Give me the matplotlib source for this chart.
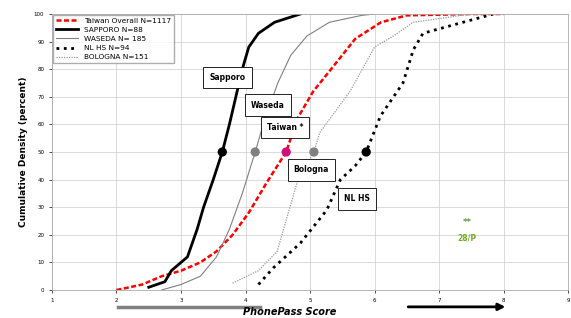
import matplotlib.pyplot as plt
import numpy as np

# cumulative curves (score, percent)
taiwan_x = [2.0, 2.4, 2.7, 3.0, 3.3, 3.55, 3.8, 4.05, 4.33, 4.63, 4.8, 5.05, 5.36, 5.7, 6.1, 6.5, 7.5, 8.0]
taiwan_y = [0, 2, 5, 7, 10, 14, 20, 28, 39, 50, 62, 72, 81, 91, 97, 99.5, 100, 100]

sapporo_x = [2.5, 2.75, 2.85, 3.0, 3.1, 3.25, 3.35, 3.5, 3.64, 3.75, 3.85, 3.95, 4.05, 4.2, 4.45, 4.85]
sapporo_y = [1, 3, 7, 10, 12, 22, 30, 40, 50, 60, 70, 80, 88, 93, 97, 100]

waseda_x = [2.7, 3.0, 3.3, 3.55, 3.75, 3.95, 4.15, 4.3, 4.5, 4.7, 4.95, 5.3, 5.8, 6.0]
waseda_y = [0, 2, 5, 12, 22, 35, 50, 62, 75, 85, 92, 97, 99.5, 100]

nlhs_x = [4.2, 4.43, 4.85, 5.26, 5.47, 5.7, 5.87, 6.09, 6.44, 6.6, 6.75, 7.37, 7.84]
nlhs_y = [2, 8, 17, 29, 40, 45, 50, 63, 75, 87, 93, 97, 100]

bologna_x = [3.8, 4.2, 4.49, 4.8, 5.06, 5.15, 5.62, 6.0, 6.29, 6.6, 7.2, 7.5]
bologna_y = [2.5, 7, 14, 39, 50, 57, 72, 88, 92, 97, 99, 100]

# medians at the 50% line
med_x = [3.64, 4.15, 4.63, 5.06, 5.87]
med_c = ['black', 'grey', '#d0107a', 'grey', 'black']

labels = ['Sapporo', 'Waseda', 'Taiwan *', 'Bologna', 'NL HS']
label_pos = [(3.72, 77), (4.35, 67), (4.61, 59), (5.02, 43.5), (5.73, 33)]

fig = plt.figure(figsize=(5.71, 3.18), dpi=100)
ax = fig.add_axes([0.091, 0.088, 0.904, 0.868])

ax.plot(taiwan_x, taiwan_y, color='red', ls=(0, (2, 1)), lw=1.8, label='Taiwan Overall N=1117')
ax.plot(sapporo_x, sapporo_y, color='black', lw=2, label='SAPPORO N=88')
ax.plot(waseda_x, waseda_y, color='grey', lw=0.8, label='WASEDA N= 185')
ax.plot(nlhs_x, nlhs_y, color='black', ls=':', lw=2, label='NL HS N=94')
ax.plot(bologna_x, bologna_y, color='#999999', ls=(0, (1, 1)), lw=0.9, label='BOLOGNA N=151')

ax.scatter(med_x, [50] * 5, c=med_c, s=32, zorder=5)

for t, (x, y) in zip(labels, label_pos):
    ax.text(x, y, t, fontsize=5.5, fontweight='bold', ha='center', va='center',
            bbox=dict(boxstyle='square,pad=0.8', fc='white', ec='black', lw=0.6))

ax.text(7.43, 24.6, '**', fontsize=6, color='#669944', ha='center', va='center', fontweight='bold')
ax.text(7.43, 18.8, '28/P', fontsize=5.5, color='#77aa22', ha='center', va='center', fontweight='bold')

ax.set_xlim(1, 9)
ax.set_ylim(0, 100)
ax.set_xticks(range(1, 10))
ax.set_yticks(range(0, 101, 10))
ax.tick_params(labelsize=4, length=2, width=0.5)
ax.grid(color='#cccccc', lw=0.5)
for s in ax.spines.values():
    s.set_color('#aaaaaa')
    s.set_linewidth(0.6)
ax.set_ylabel('Cumulative Density (percent)', fontsize=6.5, fontweight='bold')

ax.legend(loc='upper left', fontsize=5.3, frameon=True, fancybox=False, edgecolor='#999999',
          borderaxespad=0.1, handlelength=3, labelspacing=0.4)

# x label with arrows underneath
fig.text(0.508, 0.018, 'PhonePass Score', fontsize=7, fontweight='bold', style='italic',
         ha='center', va='center')
fig.add_artist(plt.Line2D([0.207, 0.455], [0.035, 0.035], color='grey', lw=2.5))
ax.annotate('', xy=(0.89, 0.035), xytext=(0.71, 0.035), xycoords='figure fraction',
            arrowprops=dict(arrowstyle='-|>', color='black', lw=2))

fig.savefig('out.png', dpi=100)
